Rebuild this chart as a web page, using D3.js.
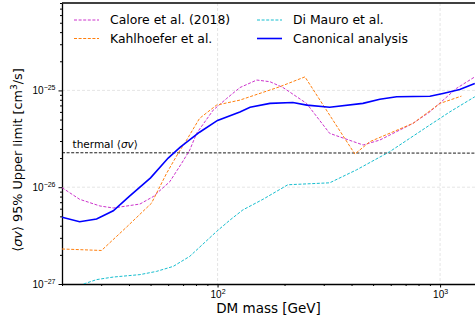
<!DOCTYPE html>
<html>
<head>
<meta charset="utf-8">
<script src="https://cdn.jsdelivr.net/npm/d3@7"></script>
<style>
  body { margin: 0; background: #fff; }
  svg { font-family: "DejaVu Sans", sans-serif; }
</style>
</head>
<body>
<div id="chart"></div>
<script>
// DM mass [GeV] and 95% upper limits [cm^3/s]
const caloreMass = [20, 24, 29.6, 34, 44.8, 51.4, 61, 69, 75, 80.5, 95.6, 110, 126, 150, 172, 197, 251, 319, 451, 536, 756, 899, 1185, 1432];
const caloreLimit = [9.9e-27, 7.5e-27, 6.4e-27, 6.1e-27, 6.7e-27, 8.0e-27, 1.14e-26, 1.77e-26, 2.42e-26, 3.6e-26, 6.26e-26, 8.27e-26, 1.07e-25, 1.28e-25, 1.23e-25, 1.07e-25, 7.35e-26, 3.6e-26, 2.73e-26, 3.07e-26, 4.57e-26, 6.0e-26, 1.05e-25, 1.38e-25];

const kahlMass = [20, 30.1, 39, 50.5, 59, 66.5, 72.6, 83, 99, 126, 190, 247, 414, 483, 756, 1000, 1247];
const kahlLimit = [2.3e-27, 2.22e-27, 3.87e-27, 6.84e-27, 1.39e-26, 2.24e-26, 3.07e-26, 5.14e-26, 7.05e-26, 7.94e-26, 1.09e-25, 1.38e-25, 2.2e-26, 2.95e-26, 4.57e-26, 7.35e-26, 8.73e-26];

const diMauroMass = [25, 28.6, 34, 44.8, 53.2, 63.2, 75, 99, 114, 130, 160, 207, 319, 421, 594, 731, 899, 1106, 1432];
const diMauroLimit = [1.0e-27, 1.11e-27, 1.18e-27, 1.25e-27, 1.35e-27, 1.52e-27, 1.93e-27, 3.49e-27, 4.6e-27, 5.83e-27, 7.5e-27, 1.06e-26, 1.11e-26, 1.51e-26, 2.33e-26, 3.2e-26, 4.39e-26, 6.0e-26, 8.6e-26];

const canonMass = [20, 24, 28.6, 34, 40, 50, 60, 68, 83, 100, 126, 140, 172, 218, 252, 319, 450, 536, 638, 900, 1030, 1225, 1432];
const canonLimit = [4.9e-27, 4.4e-27, 4.7e-27, 5.7e-27, 8.0e-27, 1.25e-26, 2.0e-26, 2.6e-26, 3.7e-26, 4.9e-26, 6.0e-26, 6.7e-26, 7.35e-26, 7.5e-26, 7.05e-26, 6.7e-26, 7.35e-26, 8.1e-26, 8.6e-26, 8.7e-26, 9.3e-26, 1.02e-25, 1.18e-25];

const thermalMass = [20, 1435];
const thermalLimit = [2.27e-26, 2.25e-26];

const xTicks = [100, 1000];
const xTickExp = ["2", "3"];
const yTicks = [1e-27, 1e-26, 1e-25];
const yTickExp = ["\u221227", "\u221226", "\u221225"];

const series = [
  { name: "Calore et al. (2018)", mass: caloreMass, limit: caloreLimit, color: "#cc33cc", dash: "3,1.6", width: 1 },
  { name: "Kahlhoefer et al.", mass: kahlMass, limit: kahlLimit, color: "#ff7f0e", dash: "3,1.6", width: 1 },
  { name: "Di Mauro et al.", mass: diMauroMass, limit: diMauroLimit, color: "#17becf", dash: "3,1.6", width: 1 },
  { name: "Canonical analysis", mass: canonMass, limit: canonLimit, color: "#0000ff", dash: null, width: 1.6 }
];

const W = 475, H = 320;
const margin = { top: 3, right: 0, bottom: 36, left: 62 };

const svg = d3.select("#chart").append("svg")
  .attr("width", W)
  .attr("height", H);

const x = d3.scaleLog().domain([20, 1435]).range([margin.left, W - margin.right]);
const y = d3.scaleLog().domain([1e-27, 8e-25]).range([H - margin.bottom, margin.top]);

svg.append("defs").append("clipPath").attr("id", "clip")
  .append("rect")
  .attr("x", margin.left).attr("y", margin.top)
  .attr("width", W - margin.left - margin.right)
  .attr("height", H - margin.top - margin.bottom);

// grid at major ticks
const grid = svg.append("g").attr("stroke", "#dedede").attr("stroke-width", 0.8).attr("stroke-dasharray", "3,2");
grid.selectAll(".gx").data(xTicks).join("line")
  .attr("x1", d => x(d)).attr("x2", d => x(d))
  .attr("y1", margin.top).attr("y2", H - margin.bottom);
grid.selectAll(".gy").data(yTicks.slice(1)).join("line")
  .attr("y1", d => y(d)).attr("y2", d => y(d))
  .attr("x1", margin.left).attr("x2", W);

// minor ticks
const xMinor = [];
[10, 100, 1000].forEach(b => { for (let k = 2; k < 10; k++) xMinor.push(b * k); });
const yMinor = [];
[1e-27, 1e-26, 1e-25].forEach(b => { for (let k = 2; k < 10; k++) yMinor.push(b * k); });

svg.append("g")
  .attr("transform", `translate(0,${H - margin.bottom})`)
  .call(d3.axisBottom(x).tickValues(xMinor.filter(v => v >= 20 && v <= 1435)).tickSize(2).tickFormat(""))
  .call(g => g.select(".domain").remove());
svg.append("g")
  .attr("transform", `translate(${margin.left},0)`)
  .call(d3.axisLeft(y).tickValues(yMinor.filter(v => v <= 8e-25)).tickSize(2).tickFormat(""))
  .call(g => g.select(".domain").remove());

// major axes
const xAxis = svg.append("g")
  .attr("transform", `translate(0,${H - margin.bottom})`)
  .call(d3.axisBottom(x).tickValues(xTicks).tickSize(3.5).tickPadding(3).tickSizeOuter(0));
xAxis.select(".domain").attr("stroke-width", 1.3);
xAxis.selectAll(".tick text").each(function(d, i) {
  const t = d3.select(this).text(null).attr("font-size", 10).attr("fill", "#000");
  t.append("tspan").text("10");
  t.append("tspan").attr("font-size", 7).attr("dy", -4).text(xTickExp[i]);
});

const yAxis = svg.append("g")
  .attr("transform", `translate(${margin.left},0)`)
  .call(d3.axisLeft(y).tickValues(yTicks).tickSize(3.5).tickPadding(3).tickSizeOuter(0));
yAxis.select(".domain").attr("stroke-width", 1.3);
yAxis.selectAll(".tick text").each(function(d, i) {
  const t = d3.select(this).text(null).attr("font-size", 10).attr("fill", "#000");
  t.append("tspan").text("10");
  t.append("tspan").attr("font-size", 7).attr("dy", -4).text(yTickExp[i]);
});

// top spine
svg.append("line")
  .attr("x1", margin.left).attr("x2", W)
  .attr("y1", margin.top).attr("y2", margin.top)
  .attr("stroke", "#000").attr("stroke-width", 1.3);

const plot = svg.append("g").attr("clip-path", "url(#clip)");

const line = d3.line()
  .x(d => x(d[0]))
  .y(d => y(d[1]));

// thermal relic line
plot.append("path")
  .datum(thermalMass.map((m, i) => [m, thermalLimit[i]]))
  .attr("d", line)
  .attr("fill", "none")
  .attr("stroke", "#000")
  .attr("stroke-width", 0.9)
  .attr("stroke-dasharray", "3,1.6");

const thermalLabel = svg.append("text")
  .attr("x", x(22.3)).attr("y", y(thermalLimit[0]) - 5)
  .attr("font-size", 10.5);
thermalLabel.append("tspan").text("thermal \u27E8");
thermalLabel.append("tspan").attr("font-style", "italic").text("\u03C3v");
thermalLabel.append("tspan").text("\u27E9");

series.forEach(s => {
  plot.append("path")
    .datum(s.mass.map((m, i) => [m, s.limit[i]]))
    .attr("d", line)
    .attr("fill", "none")
    .attr("stroke", s.color)
    .attr("stroke-width", s.width)
    .attr("stroke-dasharray", s.dash);
});

// legend
const legendPos = [
  { x: 74, y: 20 }, { x: 74, y: 38.5 }, { x: 257, y: 20 }, { x: 257, y: 38.5 }
];
series.forEach((s, i) => {
  const p = legendPos[i];
  svg.append("line")
    .attr("x1", p.x).attr("x2", p.x + 25)
    .attr("y1", p.y).attr("y2", p.y)
    .attr("stroke", s.color)
    .attr("stroke-width", s.width)
    .attr("stroke-dasharray", s.dash);
  svg.append("text")
    .attr("x", p.x + 36).attr("y", p.y)
    .attr("dy", "0.35em")
    .attr("font-size", 12.4)
    .text(s.name);
});

// axis labels
svg.append("text")
  .attr("x", (margin.left + W) / 2 + 0).attr("y", 313)
  .attr("text-anchor", "middle")
  .attr("font-size", 13.5)
  .text("DM mass [GeV]");

// y label: built at the origin, then centred on the target spot from its box
const yl = svg.append("text")
  .attr("font-size", 12.8);
yl.append("tspan").text("\u27E8");
yl.append("tspan").attr("font-style", "italic").text("\u03C3v");
yl.append("tspan").text("\u27E9 95% Upper limit [cm");
yl.append("tspan").attr("font-size", 9).attr("dy", -5).text("3");
yl.append("tspan").attr("dy", 5).text("/s]");
const bb = yl.node().getBBox();
const cx = 17, cy = 160;
yl.attr("transform", `translate(${cx},${cy}) rotate(-90) translate(${-(bb.x + bb.width / 2)},${-(bb.y + bb.height / 2)})`);
</script>
</body>
</html>
